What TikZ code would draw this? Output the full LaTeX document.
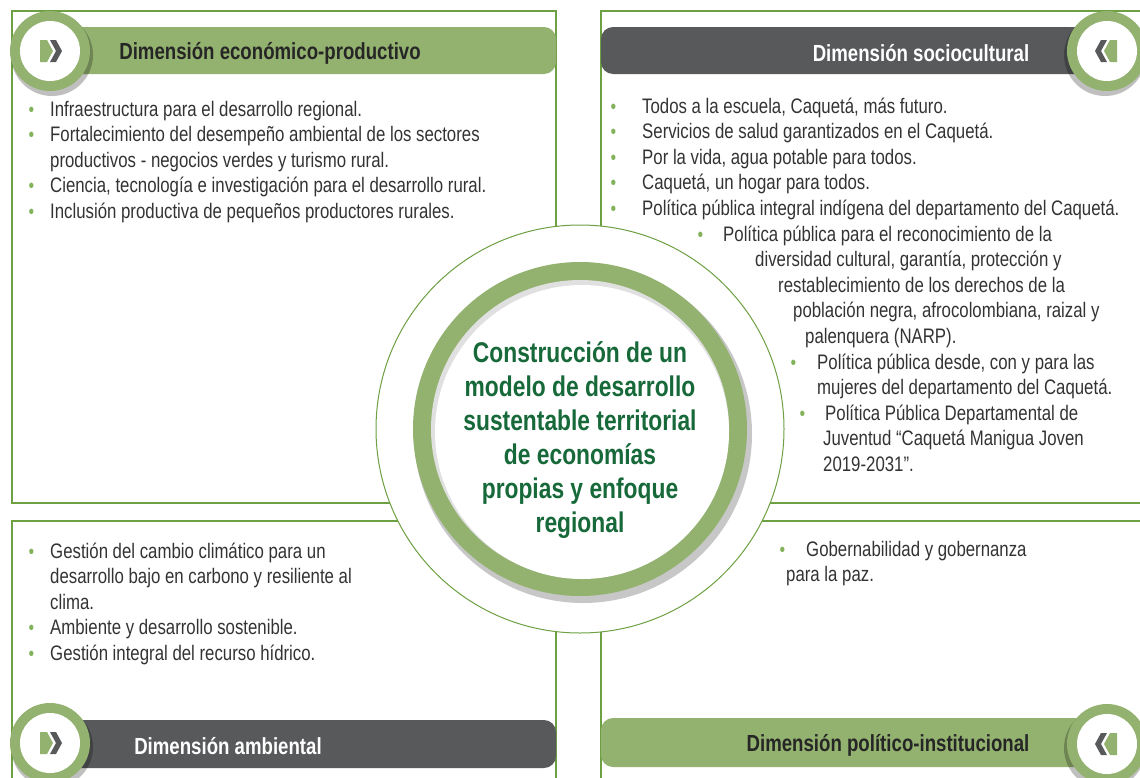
\documentclass[tikz,border=0pt]{standalone}
\usepackage{fontspec}
\setmainfont{Liberation Sans}[FakeStretch=0.8]
\usepackage{xcolor}

\definecolor{bargreen}{HTML}{93B26F}
\definecolor{bargray}{HTML}{58595B}
\definecolor{linegreen}{HTML}{6DA042}
\definecolor{dotgreen}{HTML}{82B35A}
\definecolor{titlegreen}{HTML}{17693A}
\definecolor{bodygray}{HTML}{333333}
\definecolor{headdark}{HTML}{262626}

\newcommand\bul[1]{\llap{\textcolor{dotgreen}{\fontsize{20}{20}\selectfont\textbullet}\hspace{#1pt}}}

\begin{document}
\begin{tikzpicture}[x=1pt, y=-1pt,
            panel/.style = {draw=linegreen, line width=2pt},
            headbar/.style = {rounded corners=12pt},
            headtext/.style = {inner sep=0pt, font=\fontsize{23.3}{27}\selectfont\bfseries},
            item/.style = {anchor=base west, align=left, inner sep=0pt, text=bodygray,
                           font=\fontsize{21}{25.6}\selectfont},
            core/.style = {align=center, inner sep=0pt, text=titlegreen,
                           font=\fontsize{28.5}{34}\selectfont\bfseries}
            ]
            \useasboundingbox (0,0) rectangle (1140,777);
            % panels
            \draw[panel] (12,11) rectangle (556,503);
            \draw[panel] (601,11) rectangle (1150,503);
            \draw[panel] (12,521) rectangle (556,790);
            \draw[panel] (601,521) rectangle (1150,790);
            \filldraw[fill=white, draw=linegreen, line width=1pt] (580,429) circle (204pt);
            % header bars
            \fill[bargreen, headbar] (50,27) rectangle (556,74);
            \fill[bargray, headbar] (601,27) rectangle (1107,74);
            \fill[bargray, headbar] (50,720) rectangle (556,768);
            \fill[bargreen, headbar] (601,718) rectangle (1107,767);
            \node[headtext, text=headdark] (hecon) at (270,53) {Dimensión económico-productivo};
            \node[headtext, text=white] (hsoc) at (921,53) {Dimensión sociocultural};
            \node[headtext, text=white] (hamb) at (228,746) {Dimensión ambiental};
            \node[headtext, text=headdark] (hpol) at (888,745) {Dimensión político-institucional};
            % round icons
            \foreach \cx/\cy/\d in {50/51/1, 1107/51/-1, 50/743/1, 1107/744/-1} {
                \begin{scope}[shift={(\cx,\cy)}, xscale=\d]
                    \fill[black, opacity=.25] (2,4) circle (41pt);
                    \fill[bargreen] (0,0) circle (40pt);
                    \fill[white] (0,0) circle (30pt);
                    \fill[bargreen] (-10,-11) -- (-3,-11) -- (3,0) -- (-3,11) -- (-10,11) -- cycle;
                    \fill[bargray] (0,-11) -- (6,-11) -- (12,0) -- (6,11) -- (0,11) -- (6,0) -- cycle;
                \end{scope}
            }
            % economico-productivo (nodes sit on their last line)
            \node[item] (tl1) at (50,116) {\bul{16}Infraestructura para el desarrollo regional.};
            \node[item] (tl2) at (50,167.2) {\bul{16}Fortalecimiento del desempeño ambiental de los sectores\\productivos - negocios verdes y turismo rural.};
            \node[item] (tl3) at (50,192.8) {\bul{16}Ciencia, tecnología e investigación para el desarrollo rural.};
            \node[item] (tl4) at (50,218.4) {\bul{16}Inclusión productiva de pequeños productores rurales.};
            % sociocultural
            \node[item] (tr1) at (642,113) {\bul{26}Todos a la escuela, Caquetá, más futuro.};
            \node[item] (tr2) at (642,138.6) {\bul{26}Servicios de salud garantizados en el Caquetá.};
            \node[item] (tr3) at (642,164.2) {\bul{26}Por la vida, agua potable para todos.};
            \node[item] (tr4) at (642,189.8) {\bul{26}Caquetá, un hogar para todos.};
            \node[item] (tr5) at (642,215.4) {\bul{26}Política pública integral indígena del departamento del Caquetá.};
            \node[item] (tr6) at (723,343.4) {\bul{20}Política pública para el reconocimiento de la\\
                \hspace*{32pt}diversidad cultural, garantía, protección y\\
                \hspace*{55pt}restablecimiento de los derechos de la\\
                \hspace*{70pt}población negra, afrocolombiana, raizal y\\
                \hspace*{82pt}palenquera (NARP).};
            \node[item] (tr7) at (817,394.6) {\bul{21}Política pública desde, con y para las\\mujeres del departamento del Caquetá.};
            \node[item] (tr8) at (823,471.4) {\hspace*{2pt}\bul{20}Política Pública Departamental de\\Juventud “Caquetá Manigua Joven\\2019-2031”.};
            % ambiental
            \node[item] (bl1) at (50,609.2) {\bul{16}Gestión del cambio climático para un\\desarrollo bajo en carbono y resiliente al\\clima.};
            \node[item] (bl2) at (50,634.8) {\bul{16}Ambiente y desarrollo sostenible.};
            \node[item] (bl3) at (50,660.4) {\bul{16}Gestión integral del recurso hídrico.};
            % politico-institucional
            \node[item] (br1) at (786,581.6) {\hspace*{20pt}\bul{21}Gobernabilidad y gobernanza\\para la paz.};
            % centre
            \fill[black, opacity=.22] (583,434) circle (169pt);
            \fill[bargreen] (580,429) circle (167pt);
            \fill[black!12] (580,429) circle (149pt);
            \fill[white] (582,432) circle (147pt);
            \node[core] (goal) at (580,440) {Construcción de un\\modelo de desarrollo\\sustentable territorial\\de economías\\propias y enfoque\\regional};
        \end{tikzpicture}
\end{document}
